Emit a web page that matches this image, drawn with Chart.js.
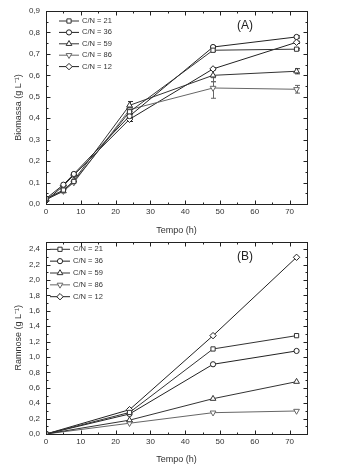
<!DOCTYPE html>
<html><head><meta charset="utf-8">
<script src="https://cdn.jsdelivr.net/npm/chart.js@4.4.0/dist/chart.umd.min.js"></script>
<style>
body{margin:0;background:#fff;width:337px;height:465px;overflow:hidden}
.box{position:absolute;left:0;width:337px}
</style></head><body>
<div class="box" style="top:0;height:236px"><canvas id="chartA"></canvas></div>
<div class="box" style="top:236px;height:229px"><canvas id="chartB"></canvas></div>
<script>
const seriesNames = ['C/N = 21', 'C/N = 36', 'C/N = 59', 'C/N = 86', 'C/N = 12'];

// (A) biomass
const timeA = [0, 5, 8, 24, 48, 72];
const bio21 = [0.025, 0.065, 0.105, 0.43, 0.717, 0.722];
const bio36 = [0.025, 0.09, 0.14, 0.41, 0.732, 0.779];
const bio59 = [0.02, 0.06, 0.11, 0.46, 0.60, 0.619];
const bio86 = [0.025, 0.06, 0.10, 0.44, 0.541, 0.535];
const bio12 = [0.015, 0.085, 0.135, 0.395, 0.63, 0.754];
const err21 = [0, 0, 0, 0.01, 0.006, 0.004];
const err36 = [0, 0, 0, 0.01, 0.005, 0.005];
const err59 = [0, 0, 0, 0.018, 0.03, 0.012];
const err86 = [0, 0, 0, 0.01, 0.048, 0.018];
const err12 = [0, 0, 0, 0.01, 0.005, 0.005];

// (B) rhamnose
const timeB = [0, 24, 48, 72];
const ram21 = [0, 0.28, 1.105, 1.278];
const ram36 = [0, 0.26, 0.906, 1.079];
const ram59 = [0, 0.18, 0.459, 0.68];
const ram86 = [0, 0.14, 0.277, 0.299];
const ram12 = [0, 0.316, 1.278, 2.296];

const markers = ['rect', 'circle', 'triangle', 'triangle', 'rectRot'];
const rotations = [0, 0, 0, 180, 0];
const radii = [3, 2.6, 3.3, 3.3, 3.2];
const colors = ['#333', '#222', '#333', '#666', '#222'];
const FONT = '"Liberation Sans", Arial, sans-serif';

function makeSets(xs, ys, errs) {
  return ys.map((arr, i) => ({
    label: seriesNames[i],
    data: arr.map((v, j) => ({ x: xs[j], y: v })),
    errors: errs ? errs[i] : null,
    borderColor: colors[i],
    borderWidth: 1,
    pointStyle: markers[i],
    rotation: rotations[i],
    pointRadius: radii[i],
    pointBackgroundColor: '#fff',
    pointBorderColor: colors[i],
    pointBorderWidth: 1,
    tension: 0
  }));
}

function drawMarker(ctx, style, rot, x, y, r) {
  ctx.beginPath();
  if (style === 'circle') {
    ctx.arc(x, y, r, 0, Math.PI * 2);
  } else if (style === 'rect') {
    const s = r * Math.SQRT1_2;
    ctx.rect(x - s, y - s, 2 * s, 2 * s);
  } else if (style === 'rectRot') {
    ctx.moveTo(x, y - r); ctx.lineTo(x + r, y); ctx.lineTo(x, y + r); ctx.lineTo(x - r, y); ctx.closePath();
  } else {
    const d = rot === 180 ? -1 : 1;
    ctx.moveTo(x, y - d * r);
    ctx.lineTo(x + r * 0.866, y + d * r * 0.5);
    ctx.lineTo(x - r * 0.866, y + d * r * 0.5);
    ctx.closePath();
  }
  ctx.fillStyle = '#fff';
  ctx.fill();
  ctx.stroke();
}

const decor = {
  id: 'decor',
  beforeDatasetsDraw(chart) {
    const ctx = chart.ctx, xs = chart.scales.x, ys = chart.scales.y;
    ctx.save();
    ctx.lineWidth = 1;
    chart.data.datasets.forEach(ds => {
      if (!ds.errors) return;
      ctx.strokeStyle = ds.borderColor;
      ds.data.forEach((p, j) => {
        const e = ds.errors[j];
        if (!e) return;
        const px = Math.round(xs.getPixelForValue(p.x)) + 0.5;
        const top = ys.getPixelForValue(p.y + e), bot = ys.getPixelForValue(p.y - e);
        ctx.beginPath();
        ctx.moveTo(px, top); ctx.lineTo(px, bot);
        ctx.moveTo(px - 2.5, top); ctx.lineTo(px + 2.5, top);
        ctx.moveTo(px - 2.5, bot); ctx.lineTo(px + 2.5, bot);
        ctx.stroke();
      });
    });
    ctx.restore();
  },
  afterDraw(chart, args, opts) {
    const ctx = chart.ctx, a = chart.chartArea, xs = chart.scales.x, ys = chart.scales.y;
    ctx.save();
    ctx.strokeStyle = '#222';
    ctx.lineWidth = 1;
    const L = Math.round(a.left) + 0.5, R = Math.round(a.right) + 0.5;
    const T = Math.round(a.top) + 0.5, B = Math.round(a.bottom) + 0.5;
    ctx.strokeRect(L, T, R - L, B - T);
    ctx.beginPath();
    for (let v = xs.min, k = 0; v <= xs.max + 1e-9; v += opts.xMinor, k++) {
      const px = Math.round(xs.getPixelForValue(v)) + 0.5;
      const len = k % 2 === 0 ? 4 : 2;
      ctx.moveTo(px, B); ctx.lineTo(px, B - len);
      ctx.moveTo(px, T); ctx.lineTo(px, T + len);
    }
    for (let k = 0; ys.min + k * opts.yMinor <= ys.max + 1e-9; k++) {
      const py = Math.round(ys.getPixelForValue(ys.min + k * opts.yMinor)) + 0.5;
      const len = k % 2 === 0 ? 4 : 2;
      ctx.moveTo(L, py); ctx.lineTo(L + len, py);
      ctx.moveTo(R, py); ctx.lineTo(R - len, py);
    }
    ctx.stroke();

    // legend
    ctx.font = '7.5px ' + FONT;
    ctx.textBaseline = 'middle';
    chart.data.datasets.forEach((ds, i) => {
      const y = opts.legY + i * opts.legGap;
      ctx.strokeStyle = ds.borderColor;
      ctx.beginPath();
      ctx.moveTo(opts.legX, y); ctx.lineTo(opts.legX + 20, y);
      ctx.stroke();
      drawMarker(ctx, markers[i], rotations[i], opts.legX + 10, y, radii[i]);
      ctx.fillStyle = '#333';
      ctx.fillText(ds.label, opts.legX + 23, y);
    });

    // panel label
    ctx.font = '12px ' + FONT;
    ctx.fillStyle = '#222';
    ctx.textAlign = 'center';
    ctx.fillText(opts.panel, opts.panelX, opts.panelY);
    ctx.restore();
  }
};

function comma(d) { return v => v.toFixed(d).replace('.', ','); }

function makeChart(id, sets, yMax, yStep, yTitle, pad, xH, deco) {
  return new Chart(document.getElementById(id), {
    type: 'line',
    data: { datasets: sets },
    plugins: [decor],
    options: {
      responsive: true,
      maintainAspectRatio: false,
      animation: false,
      layout: { padding: { left: 0, right: 30, top: pad, bottom: 0 } },
      plugins: { legend: { display: false }, tooltip: { enabled: false }, decor: deco },
      scales: {
        x: {
          type: 'linear', min: 0, max: 75,
          grid: { display: false, drawTicks: false }, border: { display: false },
          ticks: { stepSize: 10, includeBounds: false, padding: 3, maxRotation: 0, color: '#333', font: { family: FONT, size: 8 } },
          title: { display: true, text: 'Tempo (h)', color: '#333', font: { family: FONT, size: 9 }, padding: { top: 0, bottom: 0 } },
          afterFit: s => { s.height = xH; s.paddingLeft = 0; s.paddingRight = 0; }
        },
        y: {
          min: 0, max: yMax,
          grid: { display: false, drawTicks: false }, border: { display: false },
          ticks: { stepSize: yStep, includeBounds: false, padding: 6, color: '#333', font: { family: FONT, size: 8 }, callback: comma(1) },
          title: { display: true, text: yTitle, color: '#333', font: { family: FONT, size: 9 }, padding: { top: 13, bottom: 0 } },
          afterFit: s => { s.width = 46; s.paddingTop = 0; s.paddingBottom = 0; }
        }
      }
    }
  });
}

makeChart('chartA', makeSets(timeA, [bio21, bio36, bio59, bio86, bio12], [err21, err36, err59, err86, err12]),
  0.9, 0.1, 'Biomassa (g L\u207B\u00B9)', 11, 32,
  { xMinor: 5, yMinor: 0.05, legX: 59, legY: 21, legGap: 11.4, panel: '(A)', panelX: 245, panelY: 26 });

makeChart('chartB', makeSets(timeB, [ram21, ram36, ram59, ram86, ram12], null),
  2.5, 0.2, 'Ramnose (g L\u207B\u00B9)', 5.6, 31,
  { xMinor: 5, yMinor: 0.1, legX: 50, legY: 13.3, legGap: 11.85, panel: '(B)', panelX: 245, panelY: 20.7 });
</script>
</body></html>
